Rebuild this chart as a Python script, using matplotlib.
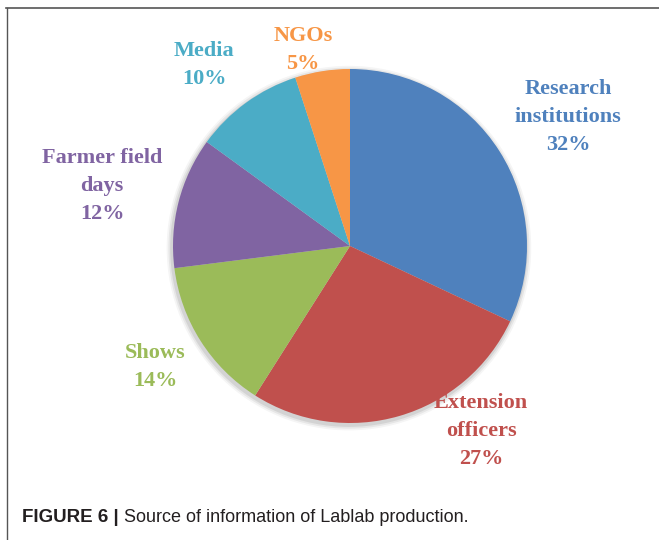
import matplotlib
matplotlib.use("Agg")
import matplotlib.pyplot as plt
from matplotlib.lines import Line2D
from matplotlib.patches import Circle

categories = ["Research\ninstitutions", "Extension\nofficers", "Shows", "Farmer field\ndays", "Media", "NGOs"]
values = [32, 27, 14, 12, 10, 5]
colors = ["#4F81BD", "#C0504D", "#9BBB59", "#8064A2", "#4BACC6", "#F79646"]

W, H = 659, 540
fig = plt.figure(figsize=(W / 100, H / 100), dpi=100)
fig.patch.set_facecolor("white")

cx, cy, r = 350, 246, 177
ax = fig.add_axes([(cx - r) / W, (H - cy - r) / H, 2 * r / W, 2 * r / H])
# soft shadow
for k, a in zip([1.03, 1.02, 1.01], [0.04, 0.06, 0.08]):
    ax.add_patch(Circle((-0.006, -0.012), k, color="black", alpha=a, lw=0,
                        zorder=0, clip_on=False))
ax.pie(values, colors=colors, startangle=90, counterclock=False, radius=1,
       wedgeprops=dict(linewidth=0, zorder=2))
ax.set_xlim(-1, 1)
ax.set_ylim(-1, 1)
ax.set_aspect("equal")
ax.axis("off")

# label centre positions in pixels (x, y from top)
label_pos = [(568, 117), (481, 431), (155, 367), (102, 186), (204, 65), (303, 50)]
for cat, v, col, (px, py) in zip(categories, values, colors, label_pos):
    fig.text(px / W, 1 - py / H, f"{cat}\n{v}%", ha="center", va="center",
             color=col, fontsize=16, fontweight="bold", family="Liberation Serif",
             linespacing=1.55)

# border lines
fig.add_artist(Line2D([6 / W, 1], [1 - 8 / H, 1 - 8 / H], transform=fig.transFigure,
                      color="#555555", linewidth=1.2))
fig.add_artist(Line2D([7 / W, 7 / W], [0, 1 - 8 / H], transform=fig.transFigure,
                      color="#555555", linewidth=1.0))

# caption
t1 = fig.text(22 / W, 1 - 518 / H, "FIGURE 6 |", ha="left", va="center",
              fontsize=13.5, fontweight="bold", family="Liberation Sans", color="#231F20")
fig.canvas.draw()
bb = t1.get_window_extent()
fig.text((bb.x1 + 5) / W, 1 - 518 / H, "Source of information of Lablab production.",
         ha="left", va="center", fontsize=13, family="Liberation Sans", color="#231F20")

fig.savefig("out.png", dpi=100)
